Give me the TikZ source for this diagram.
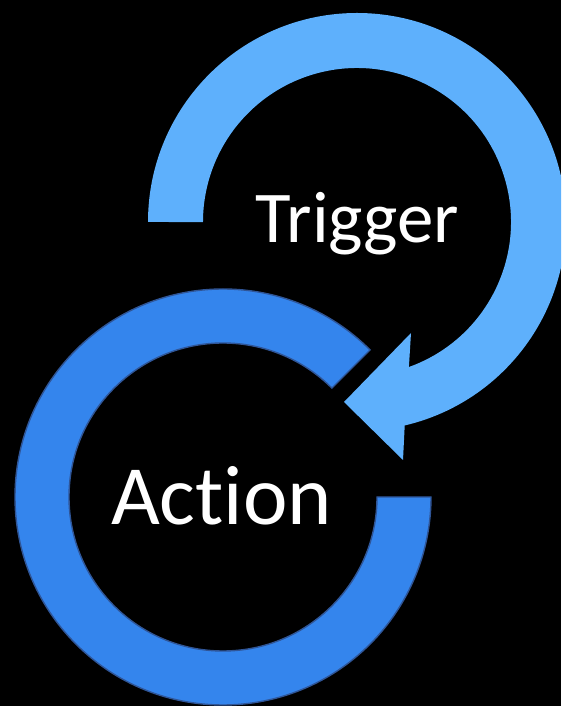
\documentclass[tikz,border=0pt]{standalone}
\usepackage{fontspec}
\setmainfont[Ligatures={NoCommon}]{Carlito}
\definecolor{trigblue}{RGB}{94,176,252}
\definecolor{actblue}{RGB}{52,133,237}
\definecolor{actedge}{RGB}{47,85,151}

\begin{document}
\begin{tikzpicture}[x=0.02cm,y=0.02cm,
  word/.style={text=white,anchor=base,inner sep=0pt}]
\fill[black] (0,0) rectangle (561,706);
\clip (0,0) rectangle (561,706);
\coordinate (TrigC) at (357,484);
\coordinate (ActC) at (223,209);
% action ring
\draw[fill=actblue,draw=actedge,line width=0.8pt]
  (ActC) ++(45:208) arc[start angle=45,end angle=360,radius=208]
  -- ++(-54,0) arc[start angle=360,end angle=45,radius=154] -- cycle;
% trigger arrow
\fill[trigblue]
  (TrigC) ++(180:209) arc[start angle=180,end angle=-76.8,radius=209]
  -- (403,246) -- (344,304) -- (411,373) -- (408.9,339)
  arc[start angle=-70.3,end angle=180,radius=154] -- cycle;
\node[word,font=\fontsize{41.5}{50}\selectfont] (Trig) at (357.5,463) {Trigger};
\node[word,font=\fontsize{48}{58}\selectfont] (Act) at (221.5,181) {Action};
\end{tikzpicture}
\end{document}
